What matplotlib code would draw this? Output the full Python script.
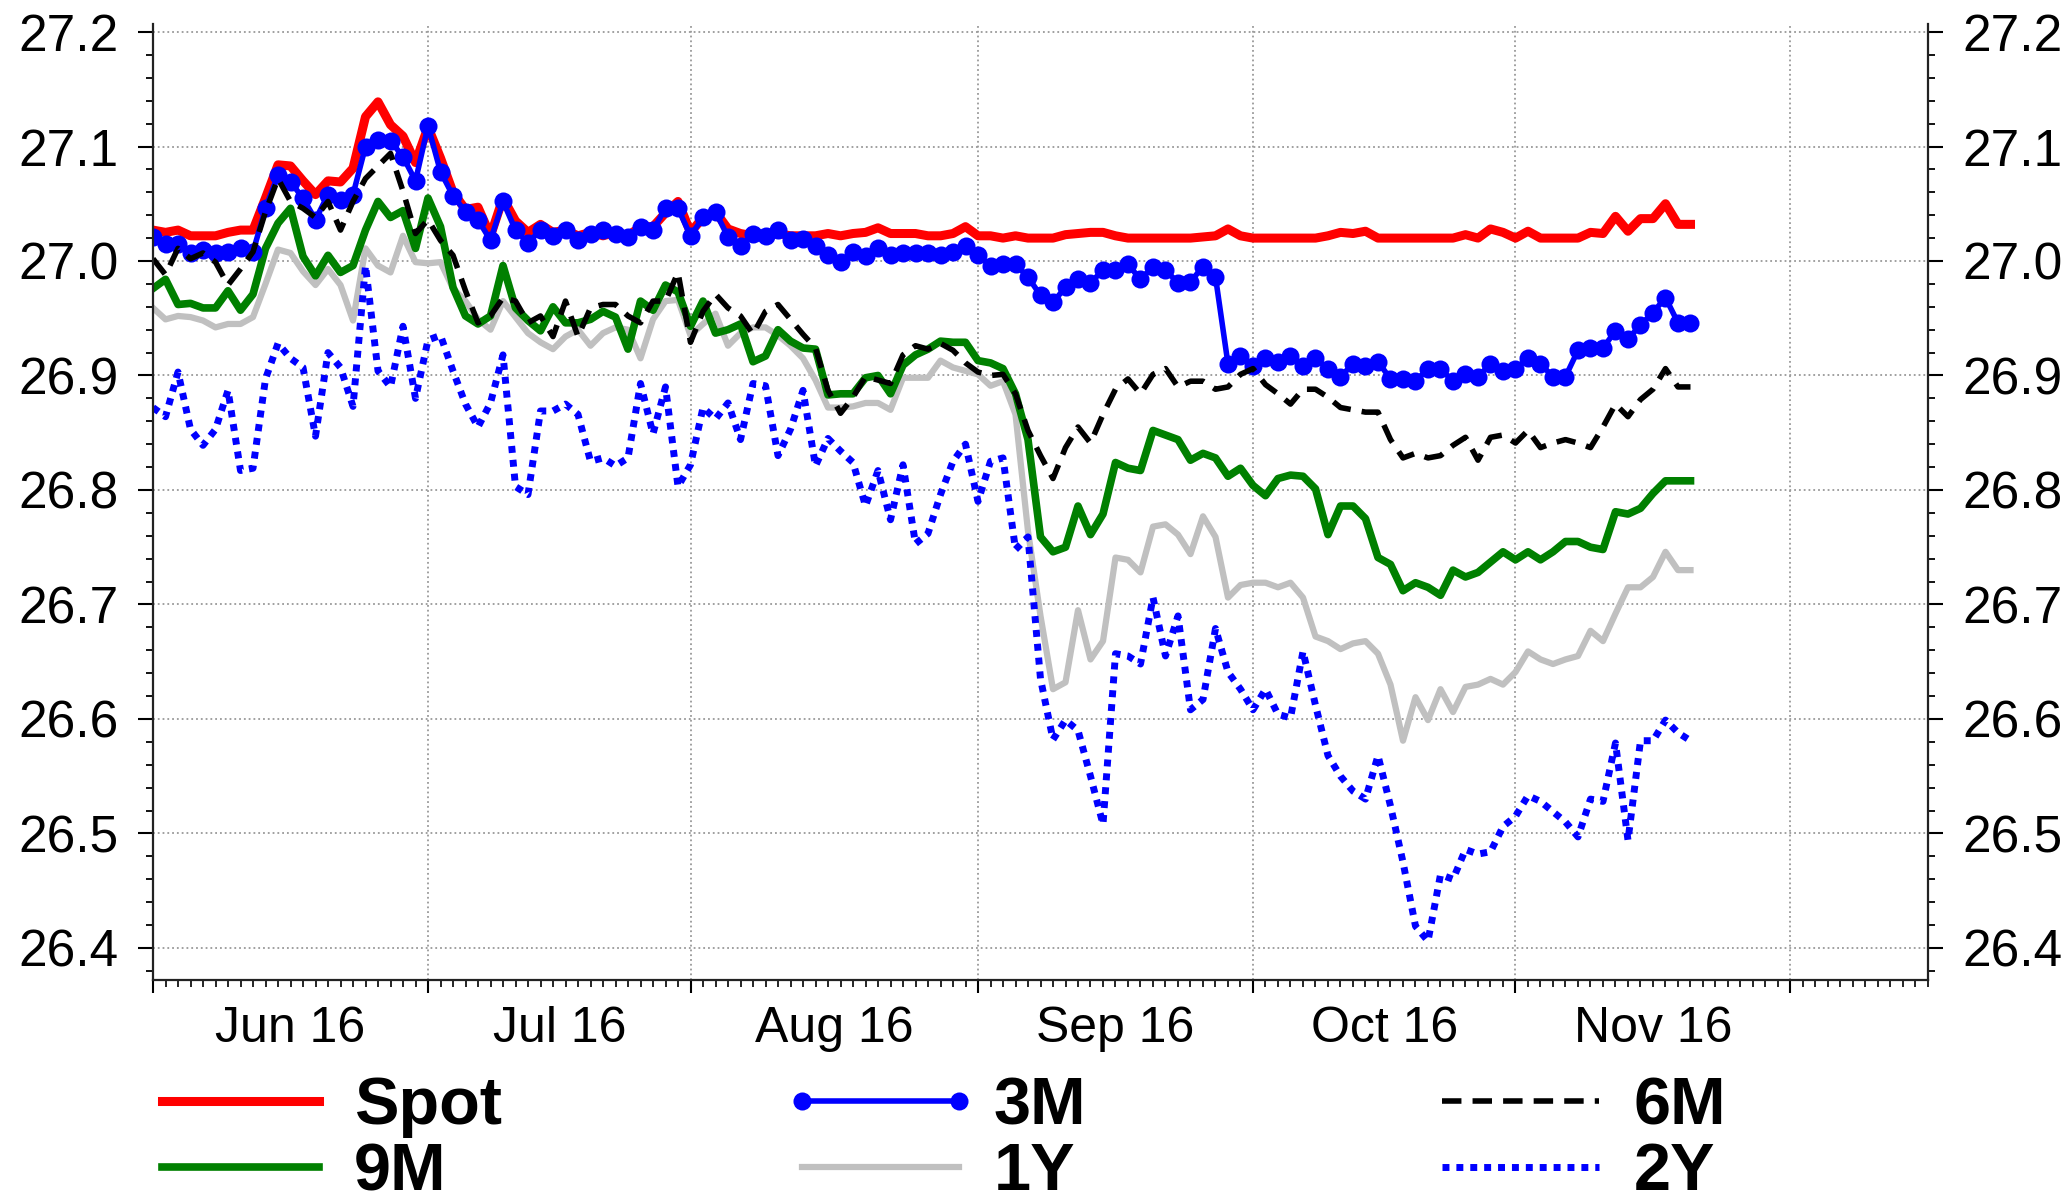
import numpy as np
import pandas as pd
import matplotlib
matplotlib.use("Agg")
import matplotlib.pyplot as plt
import matplotlib.transforms as mtransforms
from matplotlib.ticker import MultipleLocator, FixedLocator, FormatStrFormatter, NullFormatter

plt.rcParams['font.family'] = ['Liberation Sans', 'DejaVu Sans']

# business days shown on the x axis (data covers the first 124 of them)
days = pd.bdate_range("2016-06-01", "2016-12-16")
month_labels = ["Jun 16", "Jul 16", "Aug 16", "Sep 16", "Oct 16", "Nov 16"]

spot = [27.027, 27.025, 27.027, 27.022, 27.022, 27.022, 27.025, 27.027, 27.027, 27.055,
        27.084, 27.083, 27.070, 27.058, 27.070, 27.069, 27.081, 27.126, 27.139, 27.119,
        27.109, 27.086, 27.117, 27.090, 27.060, 27.045, 27.047, 27.022, 27.055, 27.035,
        27.025, 27.032, 27.025, 27.027, 27.022, 27.025, 27.022, 27.025, 27.022, 27.030,
        27.030, 27.042, 27.052, 27.025, 27.038, 27.043, 27.028, 27.024, 27.022, 27.022,
        27.024, 27.022, 27.022, 27.022, 27.024, 27.022, 27.024, 27.025, 27.029, 27.024,
        27.024, 27.024, 27.022, 27.022, 27.024, 27.030, 27.022, 27.022, 27.020, 27.022,
        27.020, 27.020, 27.020, 27.023, 27.024, 27.025, 27.025, 27.022, 27.020, 27.020,
        27.020, 27.020, 27.020, 27.020, 27.021, 27.022, 27.028, 27.022, 27.020, 27.020,
        27.020, 27.020, 27.020, 27.020, 27.022, 27.025, 27.024, 27.026, 27.020, 27.020,
        27.020, 27.020, 27.020, 27.020, 27.020, 27.023, 27.020, 27.028, 27.025, 27.020,
        27.026, 27.020, 27.020, 27.020, 27.020, 27.025, 27.024, 27.039, 27.026, 27.037,
        27.037, 27.050, 27.032, 27.032]

m3 = [27.021, 27.015, 27.015, 27.007, 27.010, 27.007, 27.008, 27.011, 27.008, 27.046,
      27.075, 27.069, 27.055, 27.036, 27.058, 27.053, 27.058, 27.100, 27.106, 27.105,
      27.091, 27.070, 27.118, 27.078, 27.057, 27.043, 27.036, 27.018, 27.052, 27.027,
      27.016, 27.027, 27.022, 27.027, 27.018, 27.024, 27.027, 27.024, 27.021, 27.030,
      27.027, 27.046, 27.046, 27.022, 27.038, 27.043, 27.021, 27.013, 27.024, 27.022,
      27.027, 27.018, 27.019, 27.013, 27.005, 26.999, 27.008, 27.004, 27.011, 27.005,
      27.007, 27.007, 27.007, 27.005, 27.008, 27.013, 27.005, 26.996, 26.997, 26.997,
      26.986, 26.970, 26.964, 26.977, 26.984, 26.981, 26.992, 26.992, 26.997, 26.984,
      26.995, 26.992, 26.981, 26.982, 26.995, 26.986, 26.910, 26.917, 26.908, 26.915,
      26.912, 26.917, 26.908, 26.915, 26.906, 26.899, 26.910, 26.908, 26.912, 26.897,
      26.897, 26.895, 26.906, 26.906, 26.895, 26.901, 26.899, 26.910, 26.904, 26.906,
      26.915, 26.910, 26.899, 26.899, 26.922, 26.924, 26.924, 26.939, 26.932, 26.944,
      26.955, 26.968, 26.946, 26.946]

m6 = [27.002, 26.988, 27.011, 27.002, 27.007, 26.999, 26.979, 26.993, 27.008, 27.043,
      27.072, 27.052, 27.046, 27.038, 27.052, 27.027, 27.052, 27.072, 27.083, 27.094,
      27.061, 27.024, 27.036, 27.018, 27.005, 26.974, 26.946, 26.952, 26.968, 26.965,
      26.946, 26.952, 26.934, 26.965, 26.934, 26.959, 26.962, 26.962, 26.952, 26.946,
      26.965, 26.965, 26.990, 26.929, 26.956, 26.971, 26.959, 26.952, 26.936, 26.956,
      26.962, 26.949, 26.936, 26.924, 26.887, 26.867, 26.881, 26.899, 26.896, 26.893,
      26.918, 26.926, 26.923, 26.928, 26.922, 26.911, 26.903, 26.900, 26.901, 26.884,
      26.852, 26.830, 26.810, 26.837, 26.855, 26.841, 26.866, 26.888, 26.897, 26.884,
      26.901, 26.906, 26.890, 26.895, 26.895, 26.888, 26.890, 26.901, 26.906, 26.892,
      26.884, 26.875, 26.888, 26.888, 26.881, 26.872, 26.870, 26.868, 26.868, 26.844,
      26.828, 26.832, 26.828, 26.830, 26.839, 26.846, 26.826, 26.846, 26.848, 26.841,
      26.852, 26.837, 26.841, 26.844, 26.841, 26.837, 26.855, 26.875, 26.864, 26.879,
      26.888, 26.906, 26.890, 26.890]

m9 = [26.976, 26.984, 26.962, 26.963, 26.959, 26.959, 26.974, 26.957, 26.971, 27.011,
      27.033, 27.046, 27.004, 26.987, 27.005, 26.990, 26.996, 27.027, 27.052, 27.038,
      27.044, 27.011, 27.055, 27.030, 26.977, 26.952, 26.945, 26.952, 26.996, 26.959,
      26.948, 26.939, 26.960, 26.946, 26.946, 26.949, 26.956, 26.951, 26.923, 26.965,
      26.957, 26.979, 26.973, 26.943, 26.965, 26.937, 26.940, 26.945, 26.912, 26.917,
      26.940, 26.930, 26.924, 26.923, 26.883, 26.884, 26.884, 26.898, 26.900, 26.884,
      26.909, 26.918, 26.923, 26.930, 26.929, 26.929, 26.913, 26.911, 26.906, 26.884,
      26.844, 26.759, 26.746, 26.750, 26.786, 26.761, 26.779, 26.824, 26.819, 26.817,
      26.852, 26.848, 26.844, 26.826, 26.832, 26.828, 26.812, 26.819, 26.804, 26.795,
      26.810, 26.813, 26.812, 26.801, 26.761, 26.786, 26.786, 26.775, 26.741, 26.735,
      26.712, 26.719, 26.715, 26.708, 26.730, 26.724, 26.728, 26.737, 26.746, 26.739,
      26.746, 26.739, 26.746, 26.755, 26.755, 26.750, 26.748, 26.781, 26.779, 26.784,
      26.797, 26.808, 26.808, 26.808]

y1 = [26.959, 26.949, 26.952, 26.951, 26.948, 26.942, 26.945, 26.945, 26.951, 26.980,
      27.010, 27.007, 26.991, 26.979, 26.993, 26.979, 26.948, 27.011, 26.996, 26.990,
      27.022, 26.999, 26.998, 26.999, 26.976, 26.965, 26.949, 26.940, 26.965, 26.951,
      26.937, 26.929, 26.923, 26.934, 26.940, 26.926, 26.937, 26.942, 26.940, 26.915,
      26.949, 26.965, 26.966, 26.935, 26.945, 26.954, 26.926, 26.937, 26.942, 26.942,
      26.935, 26.926, 26.915, 26.896, 26.872, 26.872, 26.873, 26.876, 26.876, 26.870,
      26.898, 26.898, 26.898, 26.913, 26.907, 26.904, 26.901, 26.891, 26.895, 26.866,
      26.764, 26.690, 26.626, 26.632, 26.695, 26.652, 26.668, 26.741, 26.739, 26.728,
      26.768, 26.770, 26.761, 26.744, 26.777, 26.759, 26.706, 26.717, 26.719, 26.719,
      26.715, 26.719, 26.706, 26.672, 26.668, 26.661, 26.666, 26.668, 26.657, 26.630,
      26.581, 26.619, 26.599, 26.626, 26.606, 26.628, 26.630, 26.635, 26.630, 26.641,
      26.659, 26.652, 26.648, 26.652, 26.655, 26.677, 26.668, 26.692, 26.715, 26.715,
      26.724, 26.746, 26.730, 26.730]

y2 = [26.872, 26.864, 26.903, 26.853, 26.839, 26.853, 26.887, 26.817, 26.819, 26.897,
      26.928, 26.915, 26.907, 26.847, 26.920, 26.907, 26.873, 26.996, 26.904, 26.890,
      26.943, 26.880, 26.931, 26.935, 26.904, 26.875, 26.855, 26.876, 26.918, 26.803,
      26.796, 26.869, 26.869, 26.875, 26.866, 26.825, 26.828, 26.821, 26.828, 26.893,
      26.849, 26.890, 26.803, 26.822, 26.872, 26.862, 26.876, 26.844, 26.893, 26.891,
      26.830, 26.853, 26.887, 26.821, 26.845, 26.834, 26.824, 26.786, 26.817, 26.774,
      26.822, 26.753, 26.762, 26.796, 26.825, 26.840, 26.790, 26.825, 26.828, 26.748,
      26.759, 26.635, 26.582, 26.599, 26.590, 26.550, 26.508, 26.657, 26.655, 26.648,
      26.706, 26.655, 26.690, 26.608, 26.617, 26.679, 26.641, 26.626, 26.608, 26.626,
      26.604, 26.601, 26.659, 26.612, 26.568, 26.550, 26.537, 26.530, 26.568, 26.524,
      26.475, 26.419, 26.406, 26.464, 26.460, 26.486, 26.482, 26.484, 26.506, 26.515,
      26.533, 26.528, 26.519, 26.510, 26.497, 26.530, 26.528, 26.579, 26.494, 26.581,
      26.581, 26.599, 26.588, 26.581]

x = np.arange(len(spot))

# month boundaries as positions in the business-day index
months = days.to_period("M")
month_starts = [i for i in range(len(days)) if i == 0 or months[i] != months[i - 1]]
month_ends = month_starts[1:] + [len(days) - 1]

fig = plt.figure(figsize=(20.69, 12.03), dpi=100)
ax = fig.add_axes([0.07395, 0.18537, 0.8579, 0.79468])

l_1y, = ax.plot(x, y1, color="#C0C0C0", lw=4.5, label="1Y")
l_9m, = ax.plot(x, m9, color="#008000", lw=5.5, label="9M")
l_2y, = ax.plot(x, y2, color="#0000FF", lw=5, ls=(0, (1, 1)), label="2Y")
l_spot, = ax.plot(x, spot, color="#FF0000", lw=6.5, label="Spot")
l_3m, = ax.plot(x, m3, color="#0000FF", lw=4, marker="o", ms=13, mew=0, label="3M")
l_6m, = ax.plot(x, m6, color="black", lw=4, ls=(0, (3.5, 2)), label="6M")

ax.set_xlim(0, len(days) - 1)
ax.set_ylim(26.372, 27.207)

# y axis on both sides
ax.yaxis.set_major_locator(MultipleLocator(0.1))
ax.yaxis.set_minor_locator(MultipleLocator(0.02))
ax.yaxis.set_major_formatter(FormatStrFormatter("%.1f"))
ax.tick_params(axis="y", which="both", left=True, right=True, labelleft=True, labelright=True)
ax.tick_params(axis="y", which="major", length=10.8, width=1.5, pad=14, labelsize=37)
ax.tick_params(axis="y", which="minor", length=5, width=1.3)

# x axis: one minor tick per business day, major tick at each month start
ax.xaxis.set_major_locator(FixedLocator(month_starts))
ax.xaxis.set_minor_locator(MultipleLocator(1))
ax.xaxis.set_major_formatter(NullFormatter())
ax.tick_params(axis="x", which="major", length=9.5, width=1.5)
ax.tick_params(axis="x", which="minor", length=5, width=1.2)

trans = mtransforms.blended_transform_factory(ax.transData, ax.transAxes)
for lab, s, e in zip(month_labels, month_starts, month_ends):
    ax.text((s + e) / 2, -0.027, lab, transform=trans, ha="center", va="top", fontsize=36)

ax.grid(which="major", linestyle=":", color="#999999", lw=1.3)
ax.spines["top"].set_visible(False)
for side in ["left", "right", "bottom"]:
    ax.spines[side].set_linewidth(1.6)
    ax.spines[side].set_color("#222222")

# legend: three columns of two rows under the plot
cols = [([l_spot, l_9m], 0.0686), ([l_3m, l_1y], 0.378), ([l_6m, l_2y], 0.6873)]
for handles, xpos in cols:
    leg = fig.legend(handles=handles, labels=[h.get_label() for h in handles],
                     loc="upper left", bbox_to_anchor=(xpos, 0.1055),
                     frameon=False, prop={"weight": "bold", "size": 48},
                     handlelength=2.95, handletextpad=0.225, labelspacing=0.06,
                     borderpad=0, borderaxespad=0, numpoints=2)

fig.savefig("out.png", dpi=100)
